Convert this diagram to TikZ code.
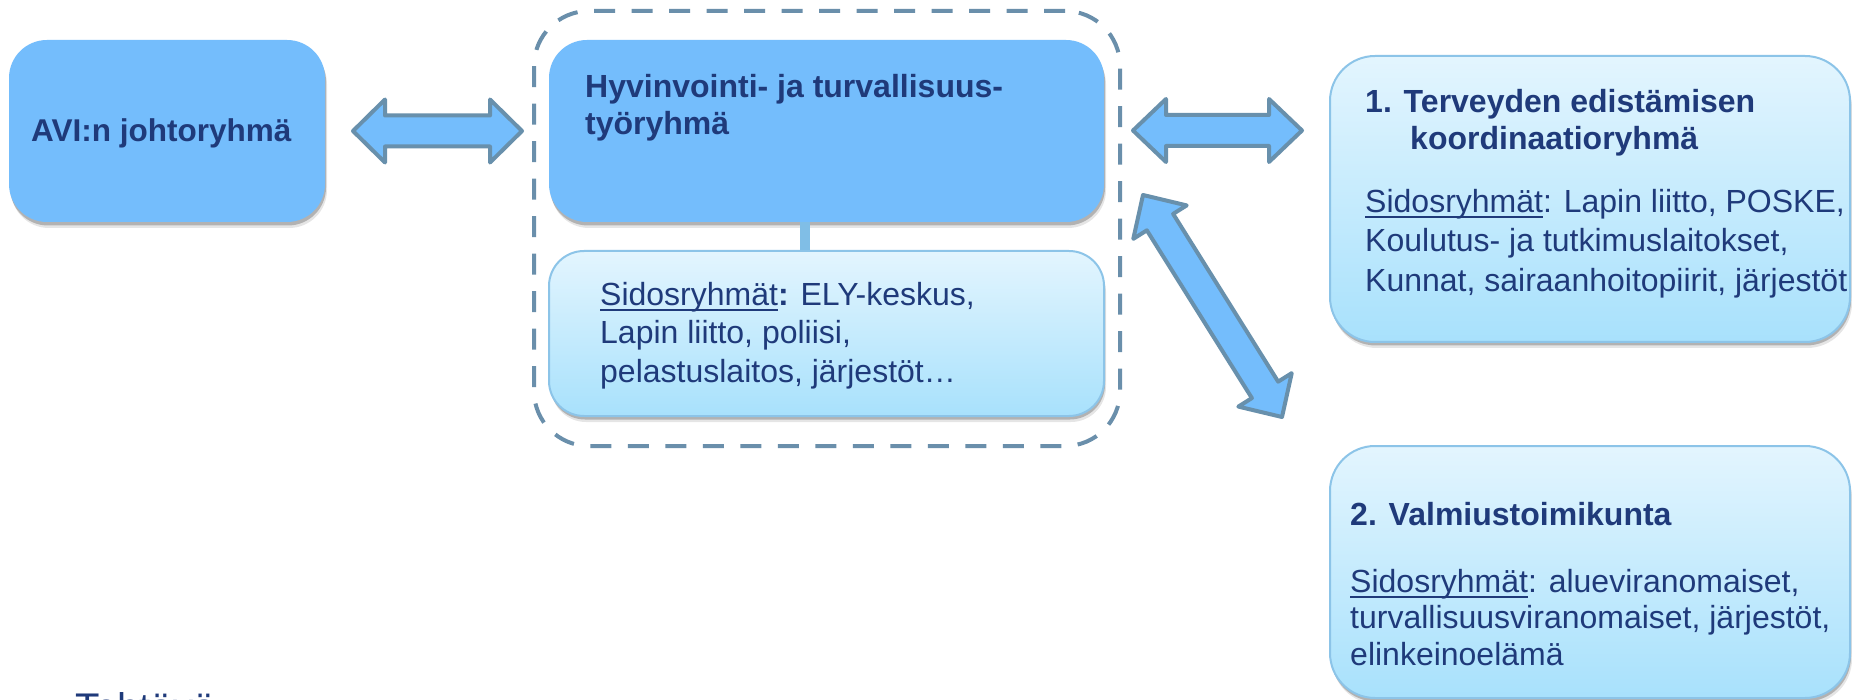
\documentclass[tikz,border=0pt]{standalone}
\usepackage{fontspec}
\setmainfont{Liberation Sans}
\usetikzlibrary{calc,shadows}
\definecolor{txt}{HTML}{1F3A7A}
\definecolor{boxblue}{HTML}{74BDFC}
\definecolor{arrline}{HTML}{6890AC}
\definecolor{dashc}{HTML}{6A8FAB}
\definecolor{ltop}{HTML}{E3F5FE}
\definecolor{lbot}{HTML}{A8E1FC}
\definecolor{lborder}{HTML}{8CC4E8}
\definecolor{barc}{HTML}{80BEE6}
\newcommand\sidul[1]{\setbox0\hbox{#1}\rlap{\rule[-6pt]{\wd0}{1.8pt}}\box0}
\newcommand\blockarrow[3]{%
  \path ($(#1)!#3!(#2)$) coordinate (hA) ($(#2)!#3!(#1)$) coordinate (hB);
  \draw[barrow] (#1) -- ($(hA)!31.5pt!90:(#2)$) -- ($(hA)!15.5pt!90:(#2)$)
    -- ($(hB)!15.5pt!-90:(#1)$) -- ($(hB)!31.5pt!-90:(#1)$) -- (#2)
    -- ($(hB)!31.5pt!90:(#1)$) -- ($(hB)!15.5pt!90:(#1)$)
    -- ($(hA)!15.5pt!-90:(#2)$) -- ($(hA)!31.5pt!-90:(#2)$) -- cycle;}
\begin{document}
\begin{tikzpicture}[x=1pt,y=-1pt,
  shad/.style={drop shadow={shadow xshift=2pt,shadow yshift=-6pt,opacity=0.10,fill=black},
               drop shadow={shadow xshift=1pt,shadow yshift=-3.5pt,opacity=0.22,fill=black}},
  darkbox/.style={shad,fill=boxblue,draw=none,rounded corners=38pt,inner sep=0pt},
  lightbox/.style={shad,top color=ltop,bottom color=lbot,draw=lborder,line width=2pt,inner sep=0pt},
  grpbox/.style={draw=dashc,line width=4pt,dash pattern=on 21pt off 16.5pt,rounded corners=55pt,inner sep=0pt},
  barrow/.style={fill=boxblue,draw=arrline,line width=4pt,line join=round},
  txtn/.style={inner sep=0pt,text=txt,align=left}]
\useasboundingbox (0,0) rectangle (1852,700);
\fill[white] (0,0) rectangle (1852,700);

% boxes
\node[darkbox,minimum width=316,minimum height=182] (avi) at (167,131) {};
\node[grpbox,minimum width=586,minimum height=435] (grp) at (827,228.5) {};
\node[darkbox,minimum width=555,minimum height=182] (hyv) at (826.5,131) {};
\node[lightbox,rounded corners=35pt,minimum width=555,minimum height=165] (hyvsid) at (826.5,333.5) {};
\draw[barc,line width=10pt] ($(hyv.south)+(-21.5,0)$) -- ($(hyvsid.north)+(-21.5,0)$);
\node[lightbox,rounded corners=45pt,minimum width=520,minimum height=286] (ter) at (1590,199) {};
\node[lightbox,rounded corners=45pt,minimum width=520,minimum height=252] (valm) at (1590,572) {};

% arrows
\coordinate (a1L) at (353,131);
\coordinate (a1R) at (522,131);
\coordinate (a2L) at (1133,130.5);
\coordinate (a2R) at (1302,130.5);
\coordinate (a3U) at (1143,195);
\coordinate (a3D) at (1282,417);
\blockarrow{a1L}{a1R}{32pt}
\blockarrow{a2L}{a2R}{33pt}
\blockarrow{a3U}{a3D}{32pt}

% texts
\node[txtn,anchor=base west,font=\bfseries\fontsize{31.5}{38}\selectfont] (avit) at (31,142) {AVI:n johtoryhmä};
\node[txtn,anchor=north west,font=\bfseries\fontsize{32}{37}\selectfont] (hyvt) at (585,73.7) {Hyvinvointi- ja turvallisuus-\\työryhmä};
\node[txtn,anchor=north west,font=\fontsize{32}{38.5}\selectfont] (hyvsidt) at (600,281.7) {\sidul{Sidosryhmät}\textbf{:} ELY-keskus,\\Lapin liitto, poliisi,\\pelastuslaitos, järjestöt…};
\node[txtn,anchor=north west,font=\bfseries\fontsize{32}{37}\selectfont] (tert) at (1365,88.7) {1. Terveyden edistämisen\\\hspace*{45pt}koordinaatioryhmä};
\node[txtn,anchor=north west,font=\fontsize{32}{39.5}\selectfont] (tersidt) at (1365,188.7) {\sidul{Sidosryhmät}: Lapin liitto, POSKE,\\Koulutus- ja tutkimuslaitokset,\\Kunnat, sairaanhoitopiirit, järjestöt};
\node[txtn,anchor=base west,font=\bfseries\fontsize{32}{38}\selectfont] (valmt) at (1350,525) {2. Valmiustoimikunta};
\node[txtn,anchor=north west,font=\fontsize{32}{36.7}\selectfont] (valmsidt) at (1350,568.7) {\sidul{Sidosryhmät}: alueviranomaiset,\\turvallisuusviranomaiset, järjestöt,\\elinkeinoelämä};
\node[txtn,anchor=base west,font=\fontsize{40}{48}\selectfont] (teht) at (75,721) {Tehtävä};
\end{tikzpicture}
\end{document}
